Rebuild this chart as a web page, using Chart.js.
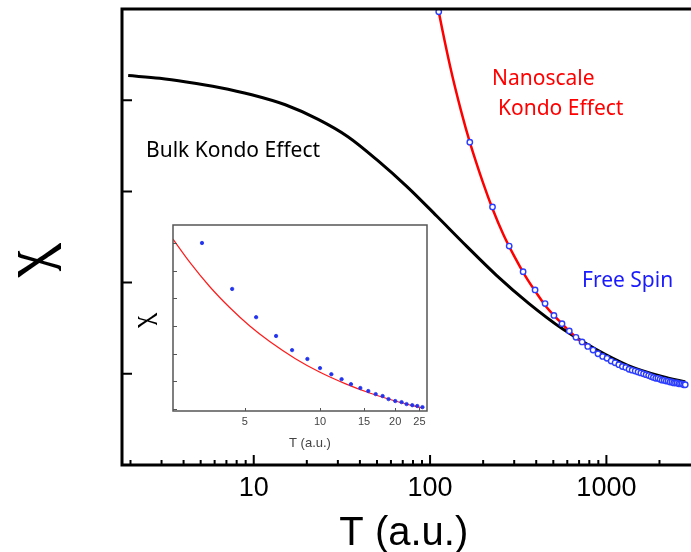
<!DOCTYPE html>
<html>
<head>
<meta charset="utf-8">
<script src="https://cdn.jsdelivr.net/npm/chart.js@4.4.1/dist/chart.umd.min.js"></script>
<style>
  html, body { margin:0; padding:0; background:#fff; overflow:hidden; }
  #wrap { position:relative; width:691px; height:552px; }
  #grafica { position:absolute; left:0; top:0; }
  #inserto { position:absolute; left:125px; top:218px; }
</style>
</head>
<body>
<div id="wrap">
  <canvas id="grafica" width="691" height="552"></canvas>
  <canvas id="inserto" width="310" height="235"></canvas>
</div>
<script>
// Curva Kondo de bulto (negra)
const bulkT   = [1.94, 2.93, 4.15, 6.36, 9.74, 15.1, 23.2, 34.2, 50.4, 74.2, 109, 161, 238, 364, 566, 867, 1330, 2065, 2813];
const bulkChi = [4.27, 4.24, 4.20, 4.14, 4.06, 3.95, 3.79, 3.60, 3.34, 3.05, 2.73, 2.40, 2.08, 1.77, 1.49, 1.27, 1.09, 0.97, 0.91];

// Kondo nanoescala (linea roja)
const nanoT   = [100, 112, 130, 150, 168, 200, 226, 260, 300, 350, 400, 450, 504, 600, 700, 800, 1000, 1300, 1600, 2000, 2500, 2813];
const nanoChi = [5.48, 4.97, 4.37, 3.88, 3.54, 3.09, 2.81, 2.53, 2.29, 2.06, 1.89, 1.75, 1.64, 1.49, 1.37, 1.29, 1.17, 1.06, 0.99, 0.93, 0.89, 0.88];

// Espin libre (circulos azules)
const libreT   = [112, 168, 226, 281, 337, 394, 449, 504, 560, 616, 672, 728, 784, 840, 896, 952, 1008, 1064, 1120, 1176, 1232, 1288, 1344, 1400, 1456, 1512, 1568, 1624, 1680, 1736, 1792, 1848, 1904, 1960, 2016, 2072, 2128, 2184, 2240, 2296, 2352, 2408, 2464, 2520, 2576, 2632, 2688, 2744, 2800];
const libreChi = [4.97, 3.54, 2.83, 2.40, 2.12, 1.92, 1.77, 1.64, 1.55, 1.47, 1.40, 1.35, 1.30, 1.26, 1.22, 1.19, 1.17, 1.14, 1.12, 1.10, 1.08, 1.07, 1.05, 1.04, 1.03, 1.02, 1.01, 1.00, 0.99, 0.98, 0.97, 0.96, 0.95, 0.95, 0.94, 0.93, 0.93, 0.92, 0.92, 0.91, 0.91, 0.90, 0.90, 0.90, 0.89, 0.89, 0.89, 0.88, 0.88];

// Grafica pequeña
const insetLineaT   = [2.58, 3.02, 3.63, 4.37, 5.25, 6.31, 7.94, 10, 12.6, 15.8, 20.0, 25.8];
const insetLineaChi = [6.14, 5.29, 4.41, 3.65, 2.99, 2.43, 1.83, 1.33, 0.92, 0.58, 0.29, 0.03];
const insetPuntosT   = [3.37, 4.45, 5.55, 6.67, 7.73, 8.9, 10.0, 11.1, 12.2, 13.3, 14.5, 15.6, 16.7, 17.8, 18.8, 20.0, 21.2, 22.2, 23.4, 24.5, 25.7];
const insetPuntosChi = [6.00, 4.34, 3.32, 2.64, 2.13, 1.81, 1.48, 1.26, 1.08, 0.90, 0.76, 0.65, 0.54, 0.47, 0.36, 0.29, 0.25, 0.18, 0.14, 0.11, 0.07];

// Marcas de ejes
const ticksX      = [10, 100, 1000];
const ticksXmenor = [2, 3, 4, 5, 6, 7, 8, 9, 20, 30, 40, 50, 60, 70, 80, 90, 200, 300, 400, 500, 600, 700, 800, 900, 2000];
const ticksY      = [1, 2, 3, 4];
const insetTicksX = [5, 10, 15, 20, 25];
const insetTicksY = [0, 1, 2, 3, 4, 5, 6];

const pares = (xs, ys) => xs.map((x, i) => ({ x: x, y: ys[i] }));

// Simbolo chi acostado (ejes x/y intercambiados), centrado en su tinta
function chiGirado(ctx, cx, cy, font){
  ctx.save();
  ctx.font = font;
  ctx.fillStyle = '#000';
  ctx.textAlign = 'left'; ctx.textBaseline = 'alphabetic';
  const m = ctx.measureText('\u03c7');
  const dx = (m.actualBoundingBoxRight - m.actualBoundingBoxLeft) / 2;
  const dy = (m.actualBoundingBoxDescent - m.actualBoundingBoxAscent) / 2;
  ctx.translate(cx, cy);
  ctx.transform(0, 1, 1, 0, 0, 0);
  ctx.fillText('\u03c7', -dx, -dy);
  ctx.restore();
}

// Ejes, marcas y textos de la grafica principal
const ejesPrincipal = {
  id: 'ejesPrincipal',
  afterDraw(chart){
    const { ctx, chartArea: a, scales: { x, y } } = chart;
    ctx.save();
    ctx.strokeStyle = '#000';
    ctx.lineWidth = 3;
    ctx.beginPath();
    ctx.moveTo(a.left - 1.5, a.top); ctx.lineTo(chart.width, a.top);
    ctx.moveTo(a.left, a.top); ctx.lineTo(a.left, a.bottom);
    ctx.moveTo(a.left - 1.5, a.bottom); ctx.lineTo(chart.width, a.bottom);
    ctx.stroke();

    ctx.lineWidth = 2;
    ctx.beginPath();
    ticksY.forEach(v => { const py = y.getPixelForValue(v); ctx.moveTo(a.left, py); ctx.lineTo(a.left + 10, py); });
    ticksX.forEach(v => { const px = x.getPixelForValue(v); ctx.moveTo(px, a.bottom); ctx.lineTo(px, a.bottom - 10); });
    ticksXmenor.forEach(v => { const px = x.getPixelForValue(v); ctx.moveTo(px, a.bottom); ctx.lineTo(px, a.bottom - 5); });
    ctx.stroke();

    ctx.font = '40px "Liberation Sans", Arial, sans-serif';
    ctx.fillStyle = '#000';
    ctx.textAlign = 'center'; ctx.textBaseline = 'alphabetic';
    ctx.fillText('T (a.u.)', (a.left + a.right) / 2, 545);
    chiGirado(ctx, 39, 260, 'italic 64px "Liberation Serif", serif');

    ctx.font = '21px "Noto Sans", sans-serif';
    ctx.textAlign = 'left';
    ctx.fillText('Bulk Kondo Effect', 146, 157);
    ctx.fillStyle = '#ff0000';
    ctx.fillText('Nanoscale', 492, 85);
    ctx.fillText('Kondo Effect', 498, 115);
    ctx.fillStyle = '#1a1aff';
    ctx.fillText('Free Spin', 582, 287);
    ctx.restore();
  }
};

new Chart(document.getElementById('grafica'), {
  type: 'line',
  data: {
    datasets: [
      { label: 'Free Spin', data: pares(libreT, libreChi), showLine: false, clip: false,
        pointStyle: 'circle', pointRadius: 2.7, pointBorderWidth: 1.4,
        pointBorderColor: '#2a3cff', pointBackgroundColor: '#ffffff' },
      { label: 'Nanoscale Kondo Effect', data: pares(nanoT, nanoChi), borderColor: '#ff0000',
        borderWidth: 2.5, pointRadius: 0, cubicInterpolationMode: 'monotone' },
      { label: 'Bulk Kondo Effect', data: pares(bulkT, bulkChi), borderColor: '#000000',
        borderWidth: 3, pointRadius: 0, cubicInterpolationMode: 'monotone' }
    ]
  },
  options: {
    responsive: false,
    animation: false,
    layout: { padding: { top: 9, left: 0, right: 0, bottom: 0 } },
    plugins: { legend: { display: false }, tooltip: { enabled: false } },
    scales: {
      x: {
        type: 'logarithmic', min: 1.79, max: 2813,
        grid: { display: false, drawTicks: false },
        border: { display: false },
        afterBuildTicks: s => { s.ticks = ticksX.map(v => ({ value: v })); },
        afterFit: s => { s.height = 87; },
        ticks: { autoSkip: false, maxRotation: 0, padding: 7, color: '#000',
          font: { family: '"Liberation Sans", Arial, sans-serif', size: 27 },
          callback: v => String(v) }
      },
      y: {
        type: 'linear', min: 0, max: 5,
        grid: { display: false, drawTicks: false },
        border: { display: false },
        ticks: { display: false },
        afterFit: s => { s.width = 122; }
      }
    }
  },
  plugins: [ejesPrincipal]
});

// Marco, marcas y rotulos de la grafica pequeña
const ejesInset = {
  id: 'ejesInset',
  beforeDatasetsDraw(chart){
    const { ctx, chartArea: a } = chart;
    ctx.save();
    ctx.fillStyle = '#fff';
    ctx.fillRect(a.left, a.top, a.width, a.height);
    ctx.restore();
  },
  afterDraw(chart){
    const { ctx, chartArea: a, scales: { x, y } } = chart;
    ctx.save();
    ctx.strokeStyle = '#555';
    ctx.lineWidth = 1.5;
    ctx.strokeRect(a.left, a.top, a.width, a.height);
    ctx.lineWidth = 1;
    ctx.beginPath();
    insetTicksY.forEach(v => { const py = Math.round(y.getPixelForValue(v)) + 0.5; ctx.moveTo(a.left, py); ctx.lineTo(a.left + 4, py); });
    insetTicksX.forEach(v => { const px = Math.round(x.getPixelForValue(v)) + 0.5; ctx.moveTo(px, a.bottom); ctx.lineTo(px, a.bottom - 3); });
    ctx.stroke();
    ctx.font = '13px "Liberation Sans", Arial, sans-serif';
    ctx.fillStyle = '#444';
    ctx.textAlign = 'center'; ctx.textBaseline = 'alphabetic';
    ctx.fillText('T (a.u.)', 185, 229);
    chiGirado(ctx, 22, 102, 'italic 28px "Liberation Serif", serif');
    ctx.restore();
  }
};

new Chart(document.getElementById('inserto'), {
  type: 'line',
  data: {
    datasets: [
      { label: 'datos', data: pares(insetPuntosT, insetPuntosChi), showLine: false,
        pointStyle: 'circle', pointRadius: 1.7, pointBorderWidth: 0.8,
        pointBorderColor: '#2233ee', pointBackgroundColor: '#2233ee' },
      { label: 'ajuste', data: pares(insetLineaT, insetLineaChi), borderColor: '#ff1a1a',
        borderWidth: 1.2, pointRadius: 0, cubicInterpolationMode: 'monotone' }
    ]
  },
  options: {
    responsive: false,
    animation: false,
    layout: { padding: { top: 7, left: 0, right: 8, bottom: 0 } },
    plugins: { legend: { display: false }, tooltip: { enabled: false } },
    scales: {
      x: {
        type: 'logarithmic', min: 2.58, max: 26.8,
        grid: { display: false, drawTicks: false },
        border: { display: false },
        afterBuildTicks: s => { s.ticks = insetTicksX.map(v => ({ value: v })); },
        afterFit: s => { s.height = 42; },
        ticks: { autoSkip: false, maxRotation: 0, padding: 4, color: '#444',
          font: { family: '"Liberation Sans", Arial, sans-serif', size: 11 },
          callback: v => String(v) }
      },
      y: {
        type: 'linear', min: -0.07, max: 6.65,
        grid: { display: false, drawTicks: false },
        border: { display: false },
        ticks: { display: false },
        afterFit: s => { s.width = 48; }
      }
    }
  },
  plugins: [ejesInset]
});
</script>
</body>
</html>
